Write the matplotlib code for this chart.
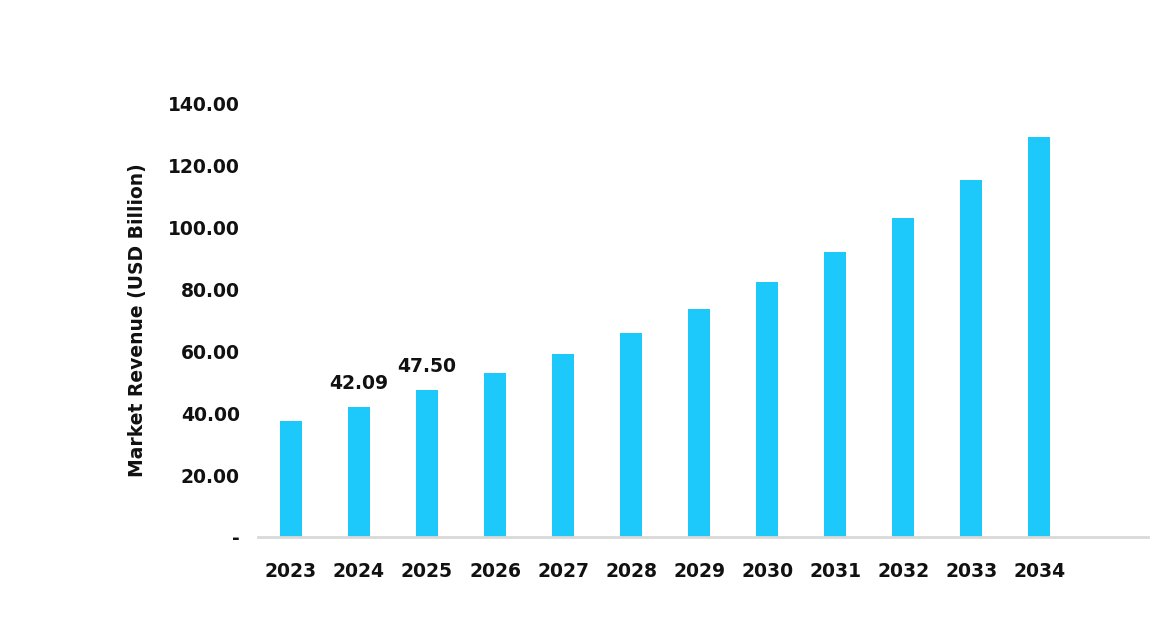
import matplotlib
matplotlib.use("Agg")
import matplotlib.pyplot as plt

# values
years = ["2023", "2024", "2025", "2026", "2027", "2028",
         "2029", "2030", "2031", "2032", "2033", "2034"]
revenue = [37.5, 42.09, 47.50, 53.0, 59.2, 66.0,
           73.6, 82.3, 92.0, 103.0, 115.3, 129.3]
labelled = {"2024": "42.09", "2025": "47.50"}
y_ticks = [0, 20, 40, 60, 80, 100, 120, 140]
y_tick_labels = ["-", "20.00", "40.00", "60.00", "80.00", "100.00", "120.00", "140.00"]

bar_color = "#1DC9FB"
text_color = "#111111"

plt.rcParams["font.family"] = ["DejaVu Sans"]

fig = plt.figure(figsize=(11.63, 6.19), dpi=100)
ax = fig.add_axes([0.2218, 0.1325, 0.7653, 0.6995])

x = list(range(len(years)))
ax.bar(x, revenue, width=0.32, color=bar_color, zorder=2)

# value labels on two bars only
for i, yr in enumerate(years):
    if yr in labelled:
        ax.annotate(labelled[yr], (x[i], revenue[i]), xytext=(0, 10),
                    textcoords="offset points", ha="center", va="bottom",
                    fontsize=13.5, fontweight="bold", color=text_color)

ax.set_xlim(-0.485, 12.6)
ax.set_ylim(0, 140)
ax.set_xticks(x)
ax.set_xticklabels(years)
ax.set_yticks(y_ticks)
ax.set_yticklabels(y_tick_labels)

ax.tick_params(axis="both", length=0, labelsize=13.5, colors=text_color)
ax.tick_params(axis="x", pad=18)
ax.tick_params(axis="y", pad=13)
for lbl in ax.get_xticklabels() + ax.get_yticklabels():
    lbl.set_fontweight("bold")

ax.set_ylabel("Market Revenue (USD Billion)", fontsize=13.5, fontweight="bold",
              color=text_color, labelpad=15)

for side in ["top", "right", "left"]:
    ax.spines[side].set_visible(False)
ax.spines["bottom"].set_color("#d9d9d9")
ax.spines["bottom"].set_linewidth(2)

fig.savefig("out.png", dpi=100)
